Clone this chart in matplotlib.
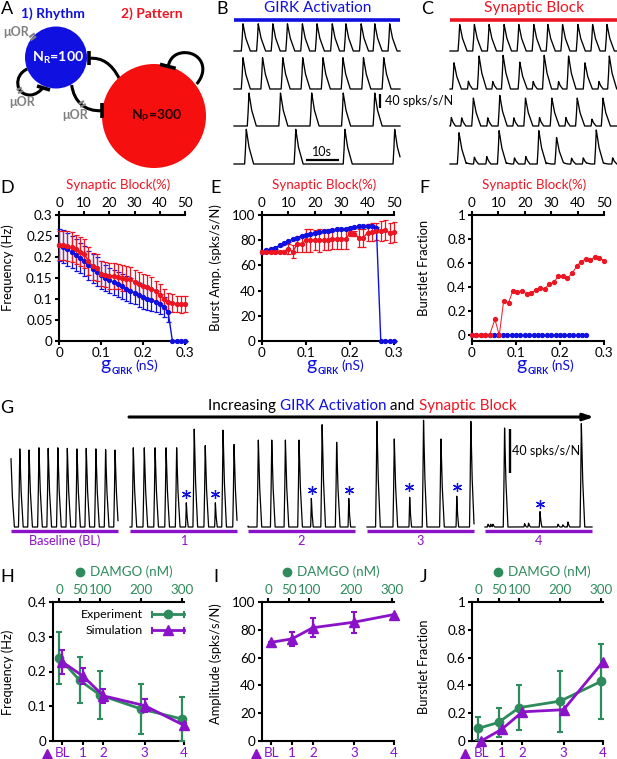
import numpy as np
import matplotlib
matplotlib.use('Agg')
import matplotlib.pyplot as plt
from matplotlib.patches import Ellipse, PathPatch
from matplotlib.path import Path

plt.rcParams['font.family'] = ['Lato', 'DejaVu Sans']
plt.rcParams['mathtext.default'] = 'regular'

W, H = 617, 759
BLUE = '#1010e0'
RED = '#ee1522'
GREEN = '#2e8b5c'
PURPLE = '#8a12c8'
GRAY = '#808080'

# ---- data ----
g_girk = [i / 100 for i in range(31)]

d_red = [.228, .228, .226, .224, .218, .213, .208, .19, .178, .175, .16, .158, .155, .155, .153, .15,
         .148, .147, .14, .135, .13, .128, .125, .118, .11, .10, .092, .09, .088, .087, .088]
d_red_err = [.034, .035, .035, .035, .035, .034, .034, .033, .032, .032, .03, .03, .03, .03, .03, .03,
             .03, .03, .03, .03, .03, .03, .028, .026, .025, .024, .022, .021, .02, .02, .02]
d_blue = [.228, .225, .218, .212, .205, .198, .19, .18, .172, .165, .158, .15, .145, .14, .135, .13,
          .125, .12, .115, .11, .105, .10, .097, .093, .088, .08, .068, 0, 0, 0, 0]
d_blue_err = [.038, .04, .04, .038, .038, .036, .036, .035, .034, .034, .033, .032, .03, .03, .03, .03,
              .03, .03, .028, .028, .028, .026, .026, .025, .024, .024, .022, 0, 0, 0, 0]

e_red = [71, 71, 71, 71, 70.5, 71, 73, 71, 77, 77, 80, 80, 80, 80, 80, 80.5, 81, 81, 81, 81, 85.5, 85,
         82, 82, 86, 86.5, 87, 87, 88, 86, 86.5]
e_red_err = [1, 1, 1, 1, 1, 1.5, 4, 5, 6, 6, 9, 9, 8, 9, 8, 8, 8, 8, 8, 8, 2, 2, 7, 7, 7, 7, 7, 8, 8, 8, 8]
e_blue = [71, 72, 73, 74, 76, 78, 79, 81, 82, 83.5, 84.5, 85, 86, 86.5, 87, 87.5, 88, 88.5, 89, 89, 90,
          90.5, 91, 91.5, 91.5, 91, 90, 0, 0, 0, 0]
e_blue_err = [.8] * 27 + [0] * 4

f_red_x = [0, .01, .02, .03, .04, .052, .062, .072, .083, .093, .103, .113, .124, .134, .145, .155, .165,
           .176, .186, .196, .207, .217, .228, .238, .248, .259, .269, .279, .289, .30]
f_red = [0, 0, 0, 0, 0, .13, 0, .285, .27, .37, .36, .365, .345, .35, .375, .39, .385, .425, .44, .49,
         .49, .475, .515, .575, .61, .635, .625, .65, .645, .62]
f_blue_x = g_girk[:27]
f_blue = [0] * 27

damgo = [0, 50, 100, 200, 300]
damgo_labels = ['0', '50', '100', '200', '300']
sim_pos = [7.5, 58, 108, 208, 304]
sim_labels = ['BL', '1', '2', '3', '4']

h_exp = [.24, .175, .132, .092, .063]
h_exp_err = [.075, .066, .07, .072, .063]
h_sim = [.228, .187, .13, .102, .045]
h_sim_err = [.035, .022, .02, .018, .008]
i_sim = [71, 73.5, 81.5, 85.5, 91]
i_sim_err = [0, 5, 7, 7.5, 0]
j_exp = [.09, .134, .24, .287, .43]
j_exp_err = [.085, .105, .16, .22, .27]
j_sim = [0, .085, .21, .225, .57]

# traces: (peak time s, peak height spks/s/N)
b_rows = [
    ([2.7, 7.3, 11.7, 16.1, 20.6, 25, 29.6, 33.7, 38.3, 42.4, 46.9], [80] * 11),
    ([2.7, 8.6, 14.7, 20.7, 26.8, 32.8, 39, 45.1], [92] * 8),
    ([4.5, 14, 23.4, 32.9, 42.4], [97] * 5),
    ([3.7, 18.6, 33.4, 48.4], [102] * 4),
]
c_rows = [
    ([2.9, 7.3, 11.7, 16.2, 20.6, 25.1, 29.3, 33.7, 38.3, 42.7, 47], [78] * 11),
    ([1.2, 5.5, 8.7, 12.8, 15.9, 20.9, 24.9, 28.2, 32.5, 35.5, 40.4, 44.6, 47.7],
     [77, 23, 97, 22, 99, 79, 22, 99, 22, 97, 77, 22, 97]),
    ([0.4, 3.5, 7, 11.3, 14.9, 19.1, 22.6, 26.8, 30.5, 34.7, 38.1, 42.5, 45.8],
     [25, 24, 82, 24, 90, 24, 82, 25, 82, 25, 82, 20, 82]),
    ([2.7, 7.3, 11, 14.7, 19.3, 22.7, 26.6, 31.9, 36.4, 39.9, 43.8, 48.7, 5, 17, 29, 34, 41, 46],
     [92, 20, 22, 98, 18, 22, 98, 78, 17, 18, 100, 18, 3, 3, 3, 4, 3, 3]),
]

g_segments = [
    ([0, 4, 8.2, 12.7, 16.9, 21.3, 25.6, 30, 34.2, 38.6, 43, 47.3],
     [62, 71, 70, 72, 71.5, 72, 71.5, 71, 71.5, 71, 70.5, 70]),
    ([1.5, 6.5, 11.4, 16.4, 21.2, 25.6, 29.2, 34.2, 38.8, 42.3, 47.3, 49.5],
     [72, 72, 72, 72, 72, 22, 89, 74, 22, 88, 75, 8]),
    ([-0.8, 4.7, 10.8, 17, 23.2, 28.8, 33.7, 40.3, 45.8],
     [28, 79, 79, 79, 79, 26, 93, 77, 26]),
    ([4.5, 12.4, 19.4, 25.7, 33.6, 40.8, 47.2],
     [96, 80, 27, 97, 80, 28, 96]),
    ([1.4, 2.6, 3.6, 8.9, 18, 19.8, 25, 33.2, 35.4, 37.7, 43.8],
     [2.5, 2.5, 2.5, 90, 3, 3.5, 14, 2.5, 2, 4.5, 94]),
]
g_names = ['Baseline (BL)', '1', '2', '3', '4']


def z_xy(points):
    return [(x / 3, y / 3) for x, y in points]


fig = plt.figure(figsize=(W / 100, H / 100), dpi=100)
rend = fig.canvas.get_renderer()


def ax_px(x0, x1, ytop, ybot):
    return fig.add_axes([x0 / W, 1 - ybot / H, (x1 - x0) / W, (ybot - ytop) / H])


ov = fig.add_axes([0, 0, 1, 1], zorder=20)
ov.set_xlim(0, W)
ov.set_ylim(H, 0)
ov.axis('off')
ov.patch.set_alpha(0)


def txt(x, y, s, size=10, color='k', ha='center', va='center', **kw):
    return ov.text(x, y, s, fontsize=size, color=color, ha=ha, va=va, **kw)


for letter, x, y in [('A', 7, 9), ('B', 222, 9), ('C', 427, 9), ('D', 7, 188), ('E', 216, 188), ('F', 424, 188),
                     ('G', 7, 408), ('H', 7, 577), ('I', 216, 577), ('J', 424, 577)]:
    txt(x, y, letter, size=13)


# ---- A: schematic ----
def curve(points, lw=2.2, color='k', z=2):
    codes = [Path.MOVETO] + [Path.CURVE4] * (len(points) - 1)
    ov.add_patch(PathPatch(Path(z_xy(points), codes), fc='none', ec=color, lw=lw, zorder=z))


curve([(358, 236), (335, 190), (305, 172), (268, 175)])
curve([(215, 255), (222, 305), (255, 335), (305, 332)])
curve([(590, 252), (630, 205), (600, 155), (550, 158), (525, 160), (510, 175), (505, 197)])
curve([(82, 207), (40, 225), (45, 285), (90, 285), (105, 285), (120, 275), (130, 262)])
ov.add_patch(Ellipse((56, 57.5), 62, 62, color=BLUE, lw=0, zorder=3))
ov.add_patch(Ellipse((154, 116), 104, 104, color='#f50f0f', lw=0, zorder=3))
for seg in [[(268, 153), (268, 196)], [(305, 310), (305, 355)], [(480, 193), (527, 205)], [(111, 258), (150, 270)]]:
    ov.plot(*zip(*z_xy(seg)), color='k', lw=2.6, solid_capstyle='butt', zorder=4)
for seg in [[(88, 112), (104, 100)], [(92, 121), (108, 109)], [(50, 270), (65, 263)], [(54, 279), (70, 272)],
            [(236, 312), (252, 303)], [(241, 321), (257, 312)]]:
    ov.plot(*zip(*z_xy(seg)), color=GRAY, lw=1.6, solid_capstyle='butt', zorder=5)
txt(16, 32, 'μOR', size=9, color=GRAY, weight='bold')
txt(22, 102, 'μOR', size=9, color=GRAY, weight='bold')
txt(75, 115, 'μOR', size=9, color=GRAY, weight='bold')
txt(53, 14, '1) Rhythm', size=10, color=BLUE, weight='bold')
txt(152, 14, '2) Pattern', size=10, color=RED, weight='bold')
txt(58, 58, r'N$_R$=100', size=10.2, color='w', weight='bold', zorder=6)
txt(157, 116, r'N$_P$=300', size=10, color='#220000', weight='bold', zorder=6)


# ---- traces ----
def waveform(times, heights, tmax, rise=0.5, fall=2.2):
    t = np.arange(0, tmax + 0.02, 0.02)
    y = np.zeros_like(t)
    for tp, h in zip(times, heights):
        k = 0.55 if h < 35 else 1.0
        xs = [tp - rise * k, tp - rise * k * 0.6, tp, tp + fall * k * 0.35, tp + fall * k]
        ys = [0, h * 0.3, h, h * 0.5, 0]
        y = np.maximum(y, np.interp(t, xs, ys, left=0, right=0))
    return t, y


def trace(x0, x1, base, tmax, px_unit, times, heights, lw=0.95, **kw):
    ax = ax_px(x0, x1, base - 100 * px_unit, base)
    t, y = waveform(times, heights, tmax, **kw)
    ax.plot(t, y, color='k', lw=lw, clip_on=False, solid_joinstyle='round')
    ax.set_xlim(0, tmax)
    ax.set_ylim(0, 100)
    ax.axis('off')
    return ax


for (times, heights), base in zip(b_rows, [51, 89, 126, 164]):
    trace(234, 400, base, 50, 0.34, times, heights)
for (times, heights), base in zip(c_rows, [51, 89, 126, 164]):
    trace(450, 617, base, 50, 0.34, times, heights)

ov.plot([234, 400], [20, 20], color=BLUE, lw=2.6, solid_capstyle='butt')
ov.plot([450, 617], [20, 20], color=RED, lw=2.6, solid_capstyle='butt')
txt(318, 8, 'GIRK Activation', size=11, color=BLUE)
txt(534, 8, 'Synaptic Block', size=11.2, color=RED)
ov.plot([380, 380], [94, 108], color='k', lw=1.6, solid_capstyle='butt')
txt(385, 101, '40 spks/s/N', size=9, ha='left')
ov.plot([306, 339], [160, 160], color='k', lw=1.6, solid_capstyle='butt')
txt(322, 152, '10s', size=9)


# ---- D, E, F ----
def style(ax, bottom_ticks, bottom_labels, left_ticks, left_labels, top_ticks, top_labels, top_color='k',
          bottom_color='k', size=9.7):
    for s in ['left', 'bottom', 'top']:
        ax.spines[s].set_linewidth(1.5)
    ax.spines['right'].set_visible(False)
    ax.set_xticks(bottom_ticks, bottom_labels)
    ax.set_yticks(left_ticks, left_labels)
    ax.tick_params(axis='both', width=1.5, length=3, labelsize=size, pad=1.5)
    ax.tick_params(axis='x', labelcolor=bottom_color, pad=1)
    top = ax.twiny()
    top.set_xlim(ax.get_xlim())
    top.set_xticks(top_ticks, top_labels)
    top.tick_params(axis='x', width=1.5, length=3, labelsize=size, labelcolor=top_color, pad=1.5)
    for s in top.spines.values():
        s.set_visible(False)
    ax.patch.set_alpha(0)
    return top


g_ticks = [0, .1, .2, .3]
g_labels = ['0', '0.1', '0.2', '0.3']
blk_ticks = [.06 * i for i in range(6)]
blk_labels = ['0', '10', '20', '30', '40', '50']


def girk_label(x):
    # big g, tiny bold GIRK subscript, then the unit
    for part, size, weight, y, gap in [('g', 14, 'normal', 370, 1), ('GIRK', 6.5, 'bold', 373.5, 3),
                                       ('(nS)', 10, 'normal', 370, 0)]:
        t_ = txt(x, y, part, size=size, color=BLUE, ha='left', va='baseline', weight=weight)
        x += t_.get_window_extent(rend).width + gap


def girk_panel(rect, ylim, yticks, ylabels, ylab, ylab_x, title_x):
    ax = ax_px(*rect)
    ax.set_xlim(0, .3)
    ax.set_ylim(*ylim)
    style(ax, g_ticks, g_labels, yticks, ylabels, blk_ticks, blk_labels)
    txt(title_x, 185, 'Synaptic Block(%)', size=9.6, color=RED)
    girk_label(title_x - 18)
    txt(ylab_x, 268, ylab, size=9.4, rotation=90)
    return ax


def pts(ax, x, y, yerr, color):
    ax.errorbar(x, y, yerr=yerr, color=color, lw=1, elinewidth=0.9, capsize=1.8, capthick=0.9, marker='o', ms=2.8,
                clip_on=False, zorder=3)


ax_d = girk_panel((59, 185, 215, 341), (0, .3), [0, .05, .1, .15, .2, .25, .3],
                  ['0', '0.05', '0.1', '0.15', '0.2', '0.25', '0.3'], 'Frequency (Hz)', 8, 118)
pts(ax_d, g_girk, d_blue, d_blue_err, BLUE)
pts(ax_d, g_girk, d_red, d_red_err, RED)

ax_e = girk_panel((262, 394, 215, 341), (0, 100), [0, 20, 40, 60, 80, 100],
                  ['0', '20', '40', '60', '80', '100'], 'Burst Amp. (spks/s/N)', 216, 324)
pts(ax_e, g_girk, e_blue, e_blue_err, BLUE)
pts(ax_e, g_girk, e_red, e_red_err, RED)

ax_f = girk_panel((472, 604, 215, 341), (-.05, 1), [0, .2, .4, .6, .8, 1],
                  ['0', '0.2', '0.4', '0.6', '0.8', '1'], 'Burstlet Fraction', 424, 534)
ax_f.plot(f_blue_x, f_blue, color=BLUE, lw=1, marker='o', ms=2.8, clip_on=False, zorder=3)
ax_f.plot(f_red_x, f_red, color=RED, lw=0.7, marker='o', ms=2.8, clip_on=False, zorder=4)

# ---- G ----
ov.annotate('', xy=(594, 417), xytext=(129, 417),
            arrowprops=dict(arrowstyle='-|>,head_width=0.2,head_length=0.6', color='k', lw=2.2,
                            shrinkA=0, shrinkB=0))
xpos = 208
for part, col in [('Increasing ', 'k'), ('GIRK Activation', BLUE), (' and ', 'k'), ('Synaptic Block', RED)]:
    t_ = txt(xpos, 406, part, size=10.9, color=col, ha='left')
    xpos += t_.get_window_extent(rend).width

g_spans = [(11, 118), (130, 237), (248, 355), (367, 474), (485, 592)]
for (x0, x1), (times, heights), name in zip(g_spans, g_segments, g_names):
    trace(x0, x1, 527, (x1 - x0) / 2.2, 1.1, times, heights, rise=0.6, fall=1.5, lw=0.9)
    ov.plot([x0, x1], [531, 531], color=PURPLE, lw=2.4, solid_capstyle='butt')
    txt((x0 + x1) / 2, 541, name, size=9.2, color=PURPLE)
stars = [(186, 494), (215, 494), (312, 490), (349, 490), (409, 487), (457, 487), (540, 504)]
ov.plot(*zip(*stars), ls='none', marker=(6, 2, 0), ms=6.5, mew=0.9, color=BLUE)
ov.plot([510, 510], [429, 473], color='k', lw=1.7, solid_capstyle='butt')
txt(512, 451, '40 spks/s/N', size=9, ha='left')


# ---- H, I, J ----
def dose_panel(rect, ylim, yticks, ylabels, ylab, ylab_x, ylab_y, dot_x, tri_x):
    ax = ax_px(*rect)
    ax.set_xlim(-14.6, 304)
    ax.set_ylim(*ylim)
    style(ax, sim_pos, sim_labels, yticks, ylabels, damgo, damgo_labels, top_color=GREEN, bottom_color=PURPLE)
    txt(ylab_x, ylab_y, ylab, size=9.3, rotation=90)
    ov.plot([dot_x], [572], marker='o', ms=6, color=GREEN)
    txt(dot_x + 10, 572, 'DAMGO (nM)', size=9.6, color=GREEN, ha='left')
    ov.plot([tri_x], [754], marker='^', ms=7, color=PURPLE)
    return ax


def exp_line(ax, y, yerr):
    ax.errorbar(damgo, y, yerr=yerr, color=GREEN, lw=2, elinewidth=1.6, capsize=2, capthick=1.5, marker='o', ms=6,
                clip_on=False, zorder=3)


def sim_line(ax, y, yerr=None):
    ax.errorbar(sim_pos, y, yerr=yerr, color=PURPLE, lw=2, elinewidth=1.6, capsize=2, capthick=1.5, marker='^',
                ms=7.5, clip_on=False, zorder=4)


ax_h = dose_panel((53, 184, 602, 741), (0, .4), [0, .1, .2, .3, .4], ['0', '0.1', '0.2', '0.3', '0.4'],
                  'Frequency (Hz)', 8, 672, 80, 47)
exp_line(ax_h, h_exp, h_exp_err)
sim_line(ax_h, h_sim, h_sim_err)
ax_i = dose_panel((262, 394, 602, 741), (0, 100), [0, 20, 40, 60, 80, 100], ['0', '20', '40', '60', '80', '100'],
                  'Amplitude (spks/s/N)', 216, 664, 287, 256)
sim_line(ax_i, i_sim, i_sim_err)
ax_j = dose_panel((472, 603, 602, 741), (0, 1), [0, .2, .4, .6, .8, 1], ['0', '0.2', '0.4', '0.6', '0.8', '1'],
                  'Burstlet Fraction', 424, 667, 498, 465)
exp_line(ax_j, j_exp, j_exp_err)
sim_line(ax_j, j_sim)

# legend in H
for label, y, col, mk, ms in [('Experiment', 614, GREEN, 'o', 6), ('Simulation', 630, PURPLE, '^', 7.5)]:
    txt(143, y, label, size=8.9, ha='right')
    ov.plot([152, 184], [y, y], color=col, lw=2)
    ov.plot([152, 152], [y - 2.5, y + 2.5], color=col, lw=1.5)
    ov.plot([184, 184], [y - 2.5, y + 2.5], color=col, lw=1.5)
    ov.plot([168], [y], marker=mk, ms=ms, color=col)

fig.savefig('out.png', dpi=100)
